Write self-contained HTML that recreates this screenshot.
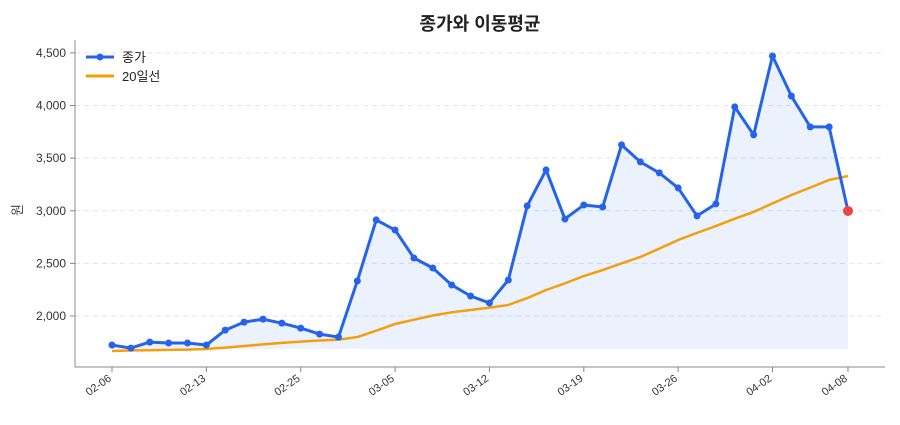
<!DOCTYPE html>
<html><head><meta charset="utf-8">
<style>
body{margin:0;background:#fff;font-family:"Liberation Sans","Noto Sans CJK KR",sans-serif;}
svg text{font-family:"Liberation Sans","Noto Sans CJK KR",sans-serif;}
</style></head>
<body>
<svg id="chart" width="900" height="420">
<text x="480" y="30" text-anchor="middle" font-size="18" font-weight="bold" fill="#222">종가와 이동평균</text>
<text transform="translate(22,210) rotate(-90)" text-anchor="middle" font-size="13" fill="#444">원</text>
<g id="grid"></g><g id="marks"></g><g id="axes"></g>
<g>
<line x1="86" y1="57" x2="114" y2="57" stroke="#2563eb" stroke-width="3"/><circle cx="100" cy="57" r="3.5" fill="#2563eb"/>
<text x="122" y="62" font-size="13" fill="#222">종가</text>
<line x1="86" y1="76" x2="114" y2="76" stroke="#f59e0b" stroke-width="3"/>
<text x="122" y="81" font-size="13" fill="#222">20일선</text>
</g>
</svg>
<script>
const labels=["02-06","02-13","02-25","03-05","03-12","03-19","03-26","04-02","04-08"];
const labelIdx=[0,5,10,15,20,25,30,35,39];
const closeVals=[1724,1695,1752,1743,1743,1724,1866,1942,1970,1932,1885,1828,1800,2333,2913,2817,2551,2456,2295,2190,2124,2342,3046,3388,2922,3055,3036,3626,3464,3360,3217,2951,3065,3987,3721,4471,4090,3797,3797,2998];
const maVals=[1667,1673,1675,1678,1681,1686,1700,1715,1730,1745,1757,1767,1775,1800,1860,1924,1965,2005,2035,2057,2080,2105,2170,2247,2310,2380,2437,2500,2561,2640,2722,2790,2855,2925,2989,3070,3150,3220,3293,3330];
const yTicks=[2000,2500,3000,3500,4000,4500];
const NS="http://www.w3.org/2000/svg";
const n=closeVals.length;
const X=i=>112+i*(848-112)/(n-1);
const Y=v=>316-(v-2000)*0.10524;
function mk(t,a,p){const e=document.createElementNS(NS,t);for(const k in a)e.setAttribute(k,a[k]);p.appendChild(e);return e;}
const grid=document.getElementById('grid'),marks=document.getElementById('marks'),axes=document.getElementById('axes');
yTicks.forEach(v=>{
 const g=mk('line',{x1:75,x2:885,y1:Y(v),y2:Y(v),stroke:'#e2e5ea','stroke-dasharray':'5,4'},grid);
 
 
 mk('line',{x1:70,x2:75,y1:Y(v),y2:Y(v),stroke:'#888'},axes);
 const t=mk('text',{x:66,y:Y(v)+4,'text-anchor':'end','font-size':12,fill:'#333'},axes);
 t.textContent=v.toLocaleString('en-US');
 
 
});
mk('line',{x1:75,x2:75,y1:40,y2:367,stroke:'#888'},axes);
mk('line',{x1:75,x2:885,y1:367,y2:367,stroke:'#888'},axes);
labels.forEach((l,k)=>{
 const x=X(labelIdx[k]);
 mk('line',{x1:x,x2:x,y1:367,y2:372,stroke:'#888'},axes);
 const t=mk('text',{x:x,y:380,'text-anchor':'end','font-size':11,fill:'#333',transform:`rotate(-35 ${x} 380)`},axes);
 t.textContent=l;
 
 
});
const base=Math.min(...closeVals,...maVals)+20;
let area=`M${X(0)},${Y(base)}`;closeVals.forEach((v,i)=>area+=`L${X(i)},${Y(v)}`);area+=`L${X(n-1)},${Y(base)}Z`;
const a=mk('path',{d:area,fill:'#2563eb','fill-opacity':0.09,stroke:'none'},marks);


const ma=mk('polyline',{points:maVals.slice(0,n).map((v,i)=>X(i)+','+Y(v)).join(' '),fill:'none',stroke:'#f59e0b','stroke-width':2.5},marks);


const cl=mk('polyline',{points:closeVals.map((v,i)=>X(i)+','+Y(v)).join(' '),fill:'none',stroke:'#2563eb','stroke-width':3,'stroke-linejoin':'round'},marks);


closeVals.forEach((v,i)=>{
 const last=i===n-1;
 const c=mk('circle',{cx:X(i),cy:Y(v),r:last?5:3.5,fill:last?'#ef4444':'#2563eb'},marks);
 
 
});
</script>
</body></html>
